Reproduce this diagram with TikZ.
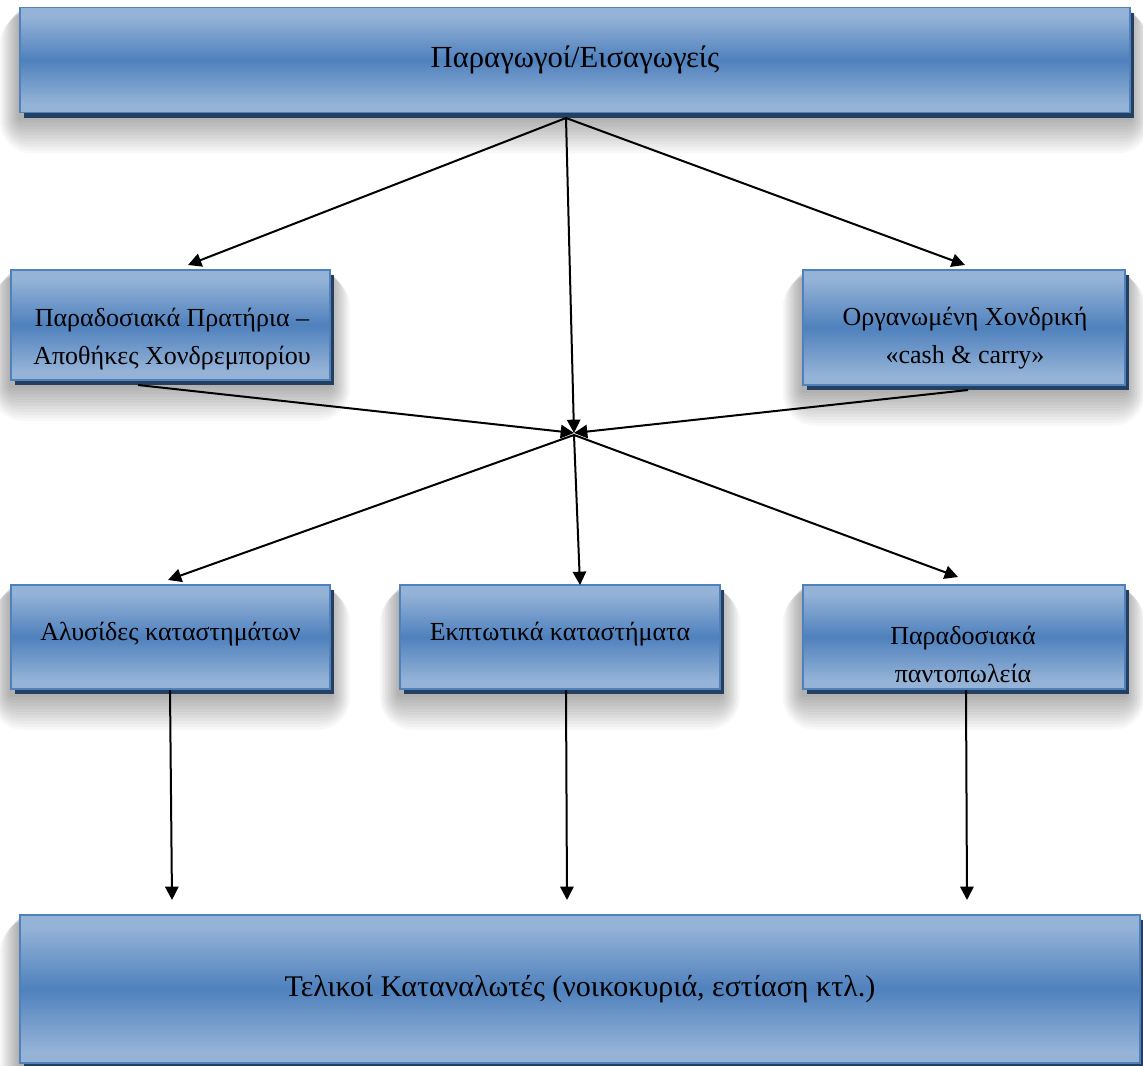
\documentclass[tikz,border=0pt]{standalone}
\usepackage{fontspec}
\setmainfont{Liberation Serif}
\usetikzlibrary{arrows.meta,shadows,calc,backgrounds}
\definecolor{lb}{RGB}{149,179,215}
\definecolor{mb}{RGB}{79,129,189}
\definecolor{bd}{RGB}{79,129,189}
\definecolor{sh}{RGB}{36,63,96}
\pgfdeclareverticalshading{boxshade}{100bp}{color(0bp)=(lb); color(25bp)=(lb); color(29bp)=(lb); color(50bp)=(mb); color(71bp)=(lb); color(75bp)=(lb); color(100bp)=(lb)}
\tikzset{
  box/.style={draw=bd, line width=1.2pt, shading=boxshade, inner sep=0pt,
    general shadow={fill=sh, shadow xshift=3pt, shadow yshift=-4pt},
    align=center, font=\fontsize{19.5}{28.5}\selectfont},
  conn/.style={line width=1.5pt, -{Triangle[length=10pt,width=10pt]}},
  lbl/.style={align=center, font=\fontsize{19.5}{28.5}\selectfont, inner sep=0pt},
  softshadow/.style={fill=black, opacity=0.028}
}
\begin{document}
\begin{tikzpicture}[x=0.75pt,y=-0.75pt]
\useasboundingbox (0,0) rectangle (1143,1066);
% boxes
\node[box, minimum width=832.5pt, minimum height=78.75pt, font=\fontsize{23}{28}\selectfont] (top) at (575,60) {Παραγωγοί/Εισαγωγείς};
\node[box, minimum width=239.25pt, minimum height=82.5pt] (lm) at (170.5,325) {};
\node[lbl] (lmt) at (172,339) {Παραδοσιακά Πρατήρια –\\Αποθήκες Χονδρεμπορίου};
\node[box, minimum width=241.5pt, minimum height=86.25pt] (rm) at (964,327.5) {};
\node[lbl] (rmt) at (965,338) {Οργανωμένη Χονδρική\\«cash \& carry»};
\node[box, minimum width=239.25pt, minimum height=78pt] (b1) at (170.5,637) {};
\node[lbl] (b1t) at (170.5,634) {Αλυσίδες καταστημάτων};
\node[box, minimum width=240pt, minimum height=78pt] (b2) at (560,637) {};
\node[lbl] (b2t) at (560,634) {Εκπτωτικά καταστήματα};
\node[box, minimum width=241.5pt, minimum height=78pt] (b3) at (964,637) {};
\node[lbl] (b3t) at (963,654) {Παραδοσιακά\\παντοπωλεία};
\node[box, minimum width=840pt, minimum height=111pt, font=\fontsize{22.5}{28}\selectfont] (bot) at (580,989) {Τελικοί Καταναλωτές (νοικοκυριά, εστίαση κτλ.)};
% soft shadows and white page
\begin{scope}[on background layer]
\fill[white] (0,0) rectangle (1143,1066);
\foreach \n in {top,lm,rm,b1,b2,b3,bot}{
  \foreach \i in {1,...,12}{
    \fill[softshadow, rounded corners=2*\i pt]
      ($(\n.north west)+(-1.6*\i,3+0.2*\i)$) rectangle ($(\n.south east)+(1.6*\i,4+3*\i)$);
  }
}
\end{scope}
% connector points
\coordinate (src) at (566,118);
\coordinate (hub) at (574,433);
\coordinate (hubo) at (574,435);
\coordinate (tl) at (188,265);
\coordinate (tr) at (965,265);
\coordinate (ls) at (138,385);
\coordinate (rs) at (968,390);
\coordinate (e1) at (168,580);
\coordinate (e2) at (580,585);
\coordinate (e3) at (958,577);
\coordinate (v1s) at (170,690);
\coordinate (v1e) at (172,900);
\coordinate (v2s) at (566,690);
\coordinate (v2e) at (567,900);
\coordinate (v3s) at (966,690);
\coordinate (v3e) at (967,900);
% connectors
\draw[conn] (src) -- (tl);
\draw[conn] (src) -- (hub);
\draw[conn] (src) -- (tr);
\draw[conn] (ls) -- (hub);
\draw[conn] (rs) -- (hub);
\draw[conn] (hubo) -- (e1);
\draw[conn] (hubo) -- (e2);
\draw[conn] (hubo) -- (e3);
\draw[conn] (v1s) -- (v1e);
\draw[conn] (v2s) -- (v2e);
\draw[conn] (v3s) -- (v3e);
\end{tikzpicture}
\end{document}
